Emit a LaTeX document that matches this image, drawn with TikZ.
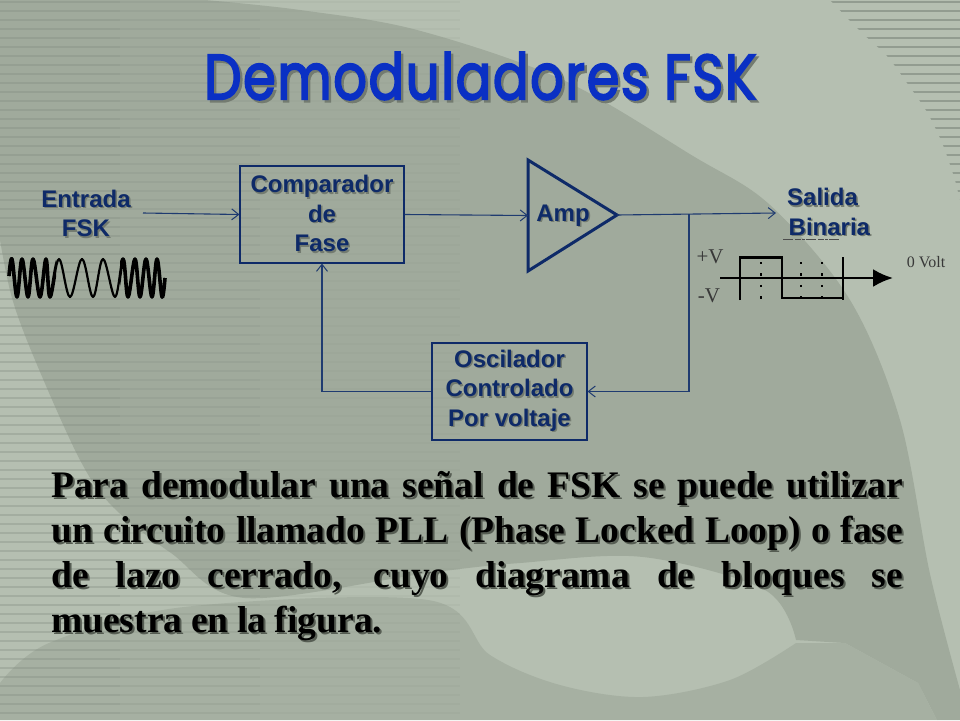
\documentclass[tikz,border=0pt]{standalone}
\usepackage{fontspec}
\usepackage{graphicx}
\usetikzlibrary{arrows.meta}
\setmainfont{Liberation Serif}
\setsansfont{Liberation Sans}
\newfontfamily\titlefont[FakeBold=3.2,LetterSpace=3]{Poppins}
\definecolor{bglight}{HTML}{B5BFB1}
\definecolor{bgdark}{HTML}{A0AA9C}
\definecolor{bgmid}{HTML}{A6B0A2}
\definecolor{stripe}{HTML}{848E82}
\definecolor{navy}{HTML}{0E2A68}
\definecolor{wire}{HTML}{1F3B70}
\definecolor{titleblue}{HTML}{0A30C4}
\definecolor{shadeA}{HTML}{737B70}
\definecolor{shadeB}{HTML}{565D53}
\newcommand{\shtext}[1]{\makebox[0pt][l]{\hspace{1.5pt}\raisebox{-1.5pt}{\color{shadeA}#1}}#1}
\newcommand{\bodyline}[1]{\makebox[0pt][l]{\hspace{2pt}\raisebox{-2pt}{\color{shadeB}\makebox[852pt][s]{#1}}}\makebox[852pt][s]{#1}}
\newcommand{\fskwave}{plot[smooth,tension=.6] coordinates {(9,276) (12,259) (17,297) (22,259) (28,297) (33,259) (40,297) (46,259) (50,297) (59,259) (70,297) (82,259) (93,297) (103,259) (115,297) (123,259) (128,297) (135,259) (140,297) (146,259) (152,297) (157,259) (162,297) (165,278)}}
\tikzset{
  blocklabel/.style={font=\sffamily\bfseries\fontsize{24}{29.5}\selectfont,text=navy,align=center,inner sep=0pt},
  blockbox/.style={draw=navy,line width=1.1pt,inner sep=0pt,blocklabel},
  wireline/.style={draw=wire,line width=1.1pt},
  wirearrow/.style={wireline,-{Straight Barb[length=7pt,width=11pt,line width=1pt]}},
  plotline/.style={black,line width=2.6pt},
  dotmark/.style={black,line width=1.6pt,dash pattern=on 2.4pt off 9pt},
  voltlabel/.style={font=\fontsize{21}{24}\selectfont,text=black!78,inner sep=0pt},
}
\begin{document}
\begin{tikzpicture}[x=1pt,y=-1pt]
\useasboundingbox (0,0) rectangle (960,720);
% background
\fill[bglight] (0,0) rectangle (960,720);
\fill[bgdark] plot[smooth,tension=.55] coordinates {(205,0) (300,10) (417,30) (563,80) (693,156) (770,205) (850,300) (900,420) (930,574) (960,690)}
  -- (960,720) -- (937,720) -- (918,683) -- (845,643)
  -- plot[smooth,tension=.55] coordinates {(796,640) (765,590) (643,557) (520,563) (428,573) (245,598) (171,553) (113,507) (80,460) (35,360) (12,298) (0,240)}
  -- (0,0) -- cycle;
\fill[bgmid] plot[smooth,tension=.55] coordinates {(0,683) (49,643) (184,607) (428,600) (490,655) (560,685) (643,697) (730,680) (796,643)}
  -- (845,643) -- (918,683) -- (937,720) -- (0,720) -- cycle;
\begin{scope}
  \foreach \yy in {2,11,...,719}{
    \draw[stripe,line width=1.6pt,opacity=.36] (0,\yy) -- (120,\yy);
    \draw[stripe,line width=1.6pt,opacity=.22] (120,\yy) -- (260,\yy);
    \draw[stripe,line width=1.6pt,opacity=.10] (260,\yy) -- (460,\yy);
  }
  \clip plot[smooth] coordinates {(830,0) (860,31) (887,56) (907,83) (927,112) (943,145) (955,180)} -- (960,200) -- (960,0) -- cycle;
  \foreach \yy in {2,11,...,200}{\draw[stripe,line width=1.6pt,opacity=.7] (820,\yy) -- (960,\yy);}
\end{scope}
% title
\node[anchor=north west,inner sep=0pt,text=titleblue] (title) at (204,52) {\makebox[0pt][l]{\hspace{2.5pt}\raisebox{-2.5pt}{\color{shadeA}\resizebox{552pt}{47pt}{\titlefont Demoduladores FSK}}}\resizebox{552pt}{47pt}{\titlefont Demoduladores FSK}};
% labels and blocks
\node[blocklabel] (entrada) at (86,214) {\shtext{Entrada}\\\shtext{FSK}};
\node[blockbox,minimum width=164pt,minimum height=97pt] (comp) at (322,214.5) {\shtext{Comparador}\\\shtext{de}\\\shtext{Fase}};
\node[blockbox,minimum width=155pt,minimum height=97pt] (osc) at (509.5,391.5) {\shtext{Oscilador}\\\shtext{Controlado}\hspace*{6pt}\\\shtext{Por voltaje}};
\coordinate (ampin) at (528,215.5);
\coordinate (ampout) at (617,215);
\draw[navy,line width=3pt,line join=miter] (528,160) -- (528,271) -- (ampout) -- cycle;
\node[blocklabel] (amp) at (563,216) {\shtext{Amp}};
\node[blocklabel,align=left,anchor=north west] (salida) at (787,188) {\shtext{Salida}\\\hspace*{1.5pt}\shtext{Binaria}};
\coordinate (inS) at (143,213);
\coordinate (outS) at (776,213);
\coordinate (jun) at (689,214);
\coordinate (junD) at (689,391.5);
\coordinate (fbC) at (322,391.5);
\draw[wirearrow] (inS) -- (comp.west);
\draw[wirearrow] (comp.east) -- (ampin);
\draw[wirearrow] (ampout) -- (outS);
\draw[wirearrow] (jun) -- (junD) -- (osc.east);
\draw[wirearrow] (osc.west) -- (fbC) -- (comp.south);
% input waveform
\draw[plotline,line width=2.2pt,line join=round] \fskwave;
\begin{scope}
  \clip (0,250) rectangle (56,305) (120,250) rectangle (172,305);
  \draw[plotline,line width=3.6pt,line join=round] \fskwave;
\end{scope}
% output waveform
\draw[plotline] (740,300) -- (740,257.5) -- (782,257.5) -- (782,298) -- (843,298);
\draw[plotline] (843,257) -- (843,300);
\draw[plotline,-{Latex[length=20pt,width=18pt]}] (720,278) -- (893,278);
\draw[dotmark] (761,262) -- (761,300);
\draw[dotmark] (801,262) -- (801,300);
\draw[dotmark] (822,262) -- (822,300);
\draw[black!70,line width=.8pt,dash pattern=on 10pt off 2pt on 6pt off 1pt on 3pt off 1pt] (783,239.5) -- (840,239.5);
\node[voltlabel] (vplus) at (710,257) {+V};
\node[voltlabel] (vminus) at (709,296) {-V};
\node[voltlabel,font=\fontsize{16}{18}\selectfont] (zero) at (926,262) {0 Volt};
% body text
\node[anchor=north west,inner sep=0pt,align=left,text=black,font=\bfseries\fontsize{37.5}{45}\selectfont] (body) at (51,471) {\bodyline{Para demodular una señal de FSK se puede utilizar}\\
\bodyline{un circuito llamado PLL (Phase Locked Loop) o fase}\\
\bodyline{de lazo cerrado, cuyo diagrama de bloques se}\\
\makebox[0pt][l]{\hspace{2pt}\raisebox{-2pt}{\color{shadeB}\makebox[331pt][s]{muestra en la figura.}}}\makebox[331pt][s]{muestra en la figura.}};
\end{tikzpicture}
\end{document}
